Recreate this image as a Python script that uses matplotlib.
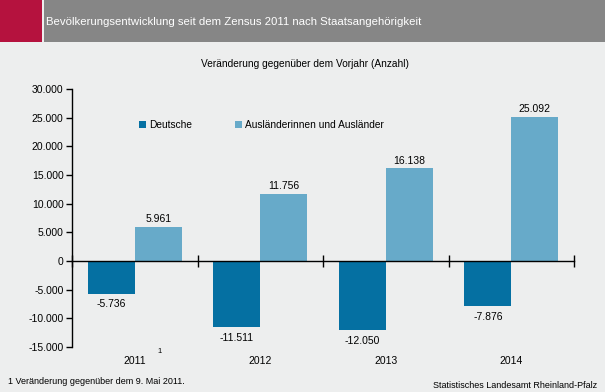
import numpy as np
import matplotlib.pyplot as plt
from matplotlib.patches import Rectangle

plt.rcParams['font.family'] = ['Liberation Sans', 'DejaVu Sans']

# Daten
jahre = ['2011', '2012', '2013', '2014']
deutsche = [-5736, -11511, -12050, -7876]
auslaender = [5961, 11756, 16138, 25092]
serien = ['Deutsche', 'Ausländerinnen und Ausländer']
yticks = [-15000, -10000, -5000, 0, 5000, 10000, 15000, 20000, 25000, 30000]

bg = '#EDEEEE'
c_de = '#0570A2'
c_au = '#67AAC9'

def fmt(v):
    return f"{v:,}".replace(',', '.')

fig = plt.figure(figsize=(6.05, 3.92), dpi=100)
fig.patch.set_facecolor(bg)

# Kopfzeile
fig.patches.append(Rectangle((0, 1 - 42/392), 1, 42/392, transform=fig.transFigure,
                             facecolor='#868686', edgecolor='none'))
fig.patches.append(Rectangle((0, 1 - 42/392), 42/605, 42/392, transform=fig.transFigure,
                             facecolor='#B5123E', edgecolor='none'))
fig.patches.append(Rectangle((42/605, 1 - 42/392), 2/605, 42/392, transform=fig.transFigure,
                             facecolor='#EDEEEE', edgecolor='none'))
fig.text(46/605, 1 - 22/392, 'Bevölkerungsentwicklung seit dem Zensus 2011 nach Staatsangehörigkeit',
         color='white', fontsize=8.2, va='center', ha='left')

fig.text(305/605, 1 - 64/392, 'Veränderung gegenüber dem Vorjahr (Anzahl)',
         fontsize=7.3, ha='center', va='center')

ax = fig.add_axes([72/605, 1 - 347/392, (574 - 72)/605, (347 - 89)/392])
ax.set_facecolor(bg)

x = np.arange(len(jahre))
w = 0.373
ax.bar(x - w/2, deutsche, w, color=c_de, label=serien[0])
ax.bar(x + w/2, auslaender, w, color=c_au, label=serien[1])

for xi, v in zip(x - w/2, deutsche):
    ax.annotate(fmt(v), (xi, v), xytext=(0, -4), textcoords='offset points',
                ha='center', va='top', fontsize=7.5)
for xi, v in zip(x + w/2, auslaender):
    ax.annotate(fmt(v), (xi, v), xytext=(0, 2), textcoords='offset points',
                ha='center', va='bottom', fontsize=7.5)

ax.set_xlim(-0.5, len(jahre) - 0.5)
ax.set_ylim(-15000, 30000)
ax.set_yticks(yticks)
ax.set_yticklabels([fmt(t) for t in yticks], fontsize=7.5)
ax.tick_params(axis='y', length=4, width=1, pad=2)

# x-Achse auf Null
ax.spines['bottom'].set_position(('data', 0))
for s in ['top', 'right']:
    ax.spines[s].set_visible(False)
ax.spines['left'].set_linewidth(1)
ax.spines['bottom'].set_linewidth(1)
ax.set_xticks(np.arange(len(jahre) + 1) - 0.5)
ax.set_xticklabels([])
ax.tick_params(axis='x', direction='inout', length=8, width=1)

for xi, j in zip(x, jahre):
    ax.text(xi, -0.035, j, transform=ax.get_xaxis_transform(), ha='center', va='top', fontsize=7.5)
ax.text(x[0] + 0.2, -0.005, '1', transform=ax.get_xaxis_transform(), ha='center', va='top', fontsize=5.5)

ax.legend(loc='upper left', bbox_to_anchor=(0.115, 0.915), ncol=2, frameon=False,
          fontsize=7.3, handlelength=0.7, handleheight=0.7, handletextpad=0.3,
          columnspacing=4.2)

fig.text(8/605, 1 - 381/392, '1 Veränderung gegenüber dem 9. Mai 2011.', fontsize=6.5, va='center')
fig.text(597/605, 1 - 385/392, 'Statistisches Landesamt Rheinland-Pfalz', fontsize=6.5,
         va='center', ha='right')

fig.savefig('out.png', dpi=100, facecolor=bg)
